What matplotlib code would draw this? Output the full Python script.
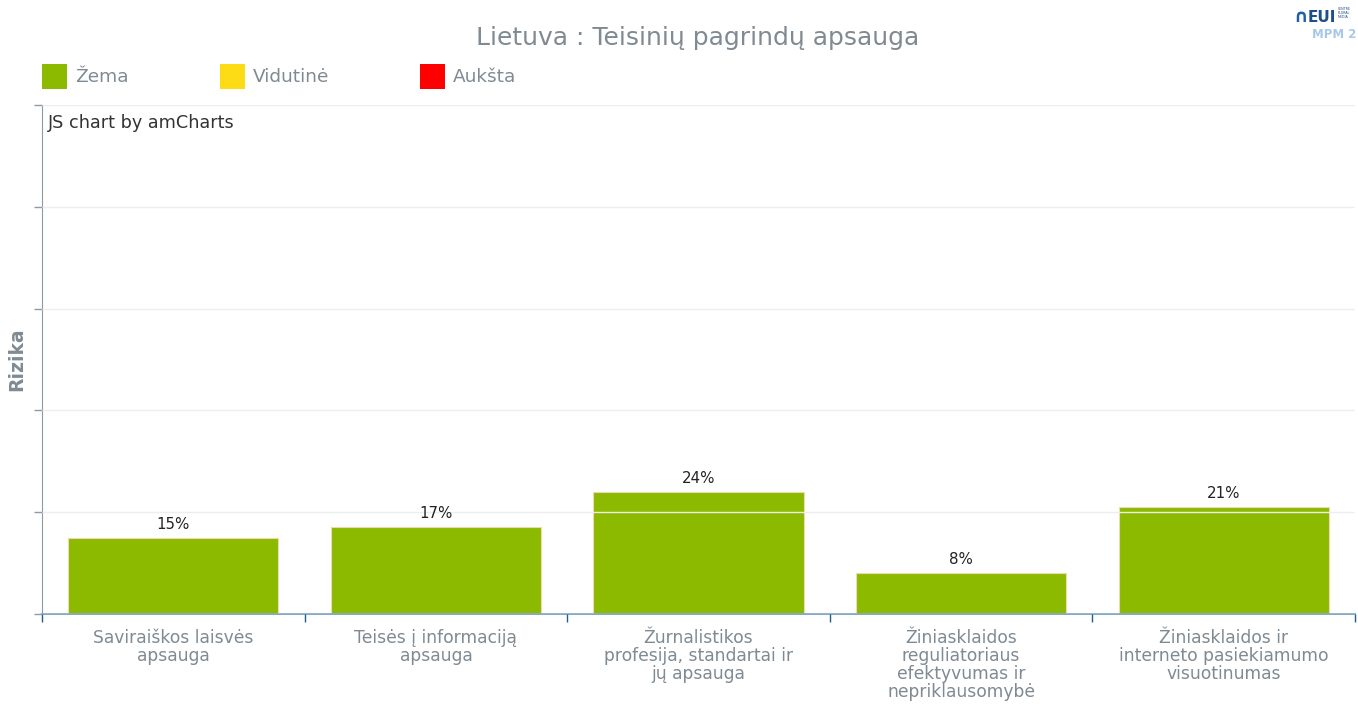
import matplotlib
matplotlib.use("Agg")
import matplotlib.pyplot as plt
from matplotlib.patches import Rectangle

categories = ["Saviraiškos laisvės\napsauga", "Teisės į informaciją\napsauga",
              "Žurnalistikos\nprofesija, standartai ir\njų apsauga",
              "Žiniasklaidos\nreguliatoriaus\nefektyvumas ir\nnepriklausomybė",
              "Žiniasklaidos ir\ninterneto pasiekiamumo\nvisuotinumas"]
values = [15, 17, 24, 8, 21]
legend_labels = ["Žema", "Vidutinė", "Aukšta"]
legend_colors = ["#8cba00", "#fddc15", "#ff0000"]
title = "Lietuva : Teisinių pagrindų apsauga"

W, H = 1358, 704
fig = plt.figure(figsize=(W/100, H/100), dpi=100)
ax = fig.add_axes([42/W, 1-614/H, (1355-42)/W, (614-105)/H])

x = list(range(len(categories)))
ax.bar(x, values, width=0.8, color="#8cba00", edgecolor="#f0d8b0", linewidth=0.8, zorder=1)
for xi, v in zip(x, values):
    ax.text(xi, v + 1.2, f"{v}%", ha="center", va="bottom", fontsize=10.8, color="#222222")

ax.set_xlim(-0.5, len(categories) - 0.5)
ax.set_ylim(0, 100)
ax.set_yticks([0, 20, 40, 60, 80, 100])
ax.set_yticklabels([])
ax.yaxis.grid(True, color="#eeeeee", linewidth=1, zorder=2)
ax.set_axisbelow(False)
ax.tick_params(axis="y", length=6, color="#8a9aa8", width=1)
ax.set_xticks([i - 0.5 for i in range(len(categories) + 1)], minor=False)
ax.set_xticklabels([])
ax.tick_params(axis="x", length=6, color="#1f5f8a", width=1)
for xi, c in zip(x, categories):
    ax.text(xi, -3.0, c, ha="center", va="top", fontsize=12.3, color="#7f8a93",
            linespacing=1.0)
for s in ["top", "right"]:
    ax.spines[s].set_visible(False)
ax.spines["left"].set_color("#8a9aa8")
ax.spines["bottom"].set_color("#6c9ab8")
ax.spines["bottom"].set_linewidth(1.2)
ax.text(-25/1313*5 - 0.5, 50, "Rizika", rotation=90, ha="center", va="center",
        fontsize=13.5, fontweight="bold", color="#7f8a93", transform=ax.transData)

fig.text(698/W, 1-38/H, title, ha="center", va="center", fontsize=18, color="#7f8a93")

lx = [42, 220, 420]
for px, lab, col in zip(lx, legend_labels, legend_colors):
    fig.patches.append(Rectangle((px/W, 1-89/H), 25/W, 25/H, transform=fig.transFigure,
                                 facecolor=col, edgecolor="none"))
    fig.text((px+33)/W, 1-77/H, lab, ha="left", va="center", fontsize=13.3, color="#7f8a93")

fig.text(48/W, 1-123/H, "JS chart by amCharts", ha="left", va="center", fontsize=12.7, color="#333333")

# logo
fig.text(1293/W, 1-17/H, "\u2229", ha="left", va="center", fontsize=13, color="#1f5fa8", fontweight="bold")
fig.text(1308/W, 1-17/H, "EUI", ha="left", va="center", fontsize=11, color="#1f4f8a", fontweight="bold")
fig.text(1338/W, 1-13/H, "CENTRE\nPLURAL\nMEDIA", ha="left", va="center", fontsize=2.3, color="#1f4f8a", linespacing=1.0)
fig.text(1312/W, 1-35/H, "MPM 2", ha="left", va="center", fontsize=8.5, color="#a8c8e8", fontweight="bold")

fig.savefig("out.png", dpi=100, facecolor="white")
